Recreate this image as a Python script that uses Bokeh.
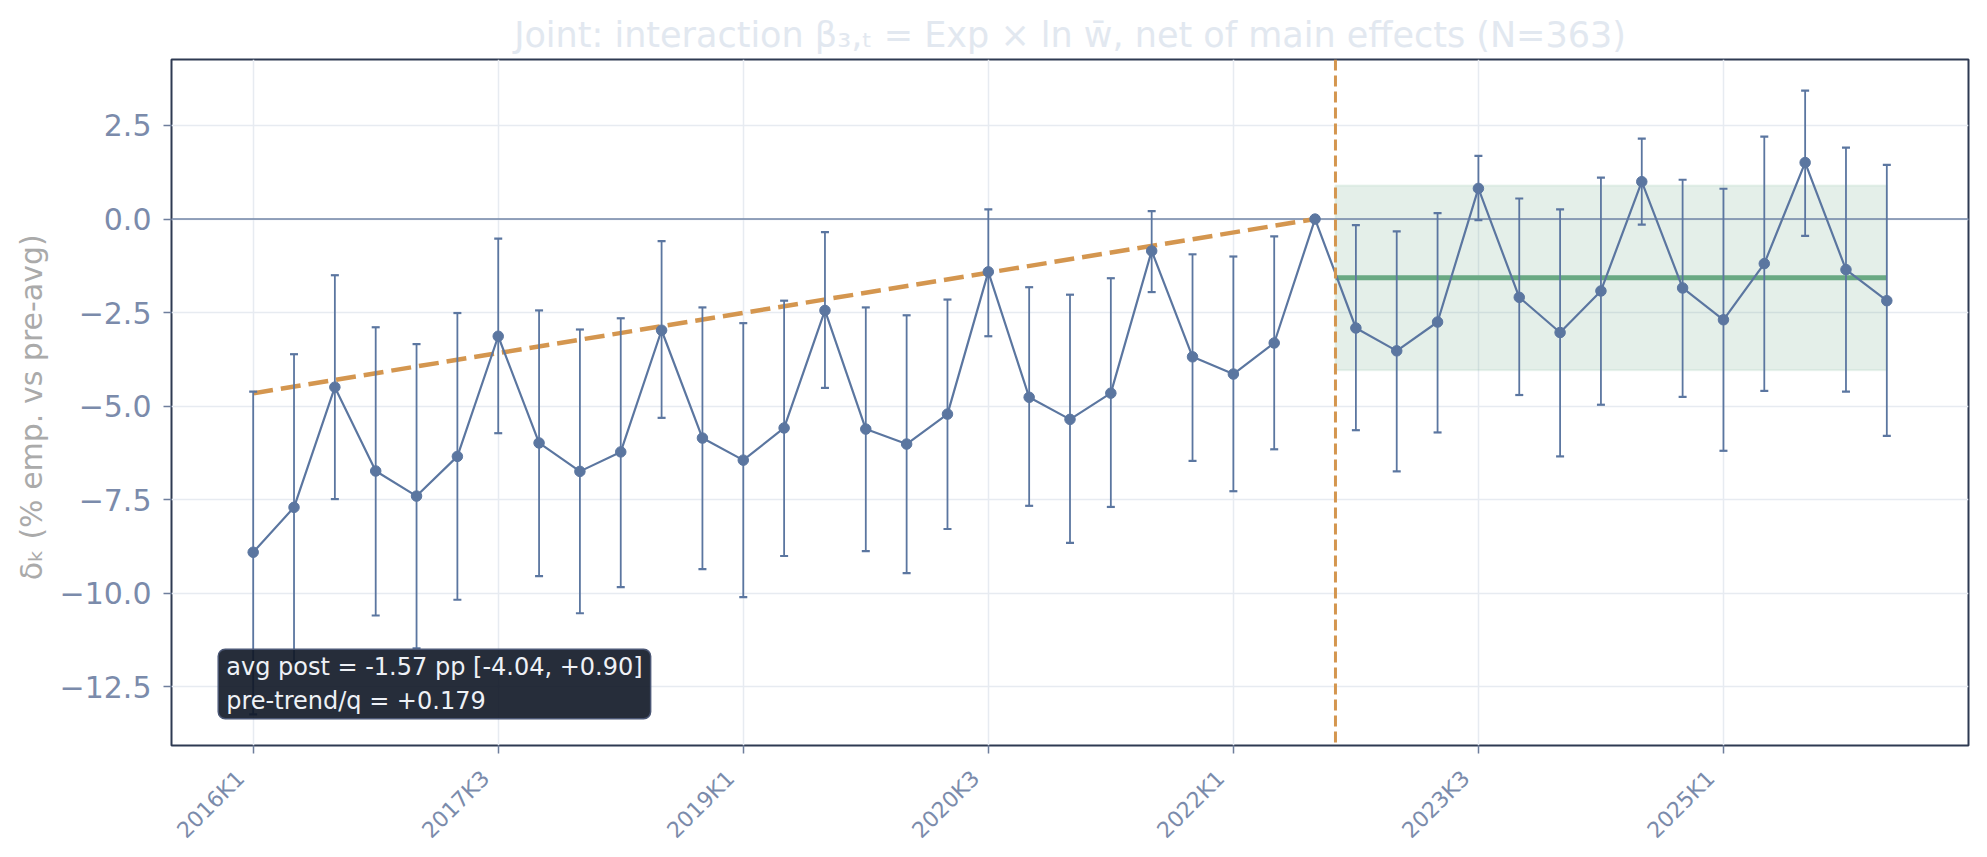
import math
from bokeh.plotting import figure
from bokeh.models import (ColumnDataSource, Range1d, FixedTicker, Whisker, TeeHead,
                          Span, BoxAnnotation, Label, LinearAxis, CustomJSTickFormatter)
from bokeh.embed import file_html
from bokeh.resources import INLINE

# ---------------- data ----------------
quarters = [
    "2016K1", "2016K2", "2016K3", "2016K4", "2017K1", "2017K2", "2017K3", "2017K4",
    "2018K1", "2018K2", "2018K3", "2018K4", "2019K1", "2019K2", "2019K3", "2019K4",
    "2020K1", "2020K2", "2020K3", "2020K4", "2021K1", "2021K2", "2021K3", "2021K4",
    "2022K1", "2022K2", "2022K3", "2022K4", "2023K1", "2023K2", "2023K3", "2023K4",
    "2024K1", "2024K2", "2024K3", "2024K4", "2025K1", "2025K2", "2025K3", "2025K4",
    "2026K1",
]
delta = [
    -8.90, -7.70, -4.49, -6.73, -7.40, -6.34, -3.13, -5.98,
    -6.74, -6.22, -2.97, -5.85, -6.44, -5.58, -2.44, -5.61,
    -6.01, -5.21, -1.41, -4.76, -5.35, -4.65, -0.85, -3.68,
    -4.14, -3.31, 0.00, -2.91, -3.52, -2.75, 0.82, -2.09,
    -3.03, -1.92, 1.00, -1.84, -2.69, -1.19, 1.51, -1.35,
    -2.18,
]
ci_low = [
    -13.23, -11.83, -7.48, -10.59, -11.47, -10.17, -5.72, -9.54,
    -10.53, -9.83, -5.31, -9.35, -10.10, -9.00, -4.51, -8.87,
    -9.46, -8.28, -3.13, -7.66, -8.65, -7.69, -1.95, -6.46,
    -7.27, -6.15, 0.00, -5.64, -6.74, -5.70, -0.03, -4.70,
    -6.34, -4.96, -0.15, -4.75, -6.19, -4.59, -0.45, -4.61,
    -5.79,
]
ci_high = [
    -4.61, -3.61, -1.50, -2.89, -3.34, -2.51, -0.52, -2.44,
    -2.95, -2.65, -0.59, -2.36, -2.78, -2.18, -0.35, -2.36,
    -2.57, -2.15, 0.26, -1.82, -2.02, -1.58, 0.21, -0.94,
    -1.00, -0.46, 0.00, -0.16, -0.33, 0.16, 1.69, 0.55,
    0.26, 1.11, 2.15, 1.05, 0.81, 2.20, 3.43, 1.91,
    1.45,
]
ref_index = 26            # 2022K3 = reference quarter
post_avg = -1.57
post_lo = -4.04
post_hi = 0.90
pretrend_q = 0.179
n_obs = 363

x_tick_idx = [0, 6, 12, 18, 24, 30, 36]
y_ticks = [2.5, 0.0, -2.5, -5.0, -7.5, -10.0, -12.5]
y_tick_labels = ["2.5", "0.0", "\u22122.5", "\u22125.0", "\u22127.5", "\u221210.0", "\u221212.5"]

# ---------------- styling ----------------
FONT = "DejaVu Sans"
C_SERIES = "#5b76a0"
C_ORANGE = "#d4964f"
C_GREEN = "#69a983"
C_TICK = "#7b8bab"
C_GRID = "#e7ebf1"
C_FRAME = "#2e3a52"

x = list(range(len(quarters)))
x_pad = 0.05 * (x[-1] - x[0])
ymin, ymax = min(ci_low), max(ci_high)
y_pad = 0.05 * (ymax - ymin)
x_range = Range1d(x[0] - x_pad, x[-1] + x_pad)
y_range = Range1d(ymin - y_pad, ymax + y_pad)

title = ("Joint: interaction \u03b2\u2083,\u209c = Exp \u00d7 ln w\u0304, "
         "net of main effects (N=%d)" % n_obs)

p = figure(frame_width=1797, frame_height=686,
           x_range=x_range, y_range=y_range,
           output_backend="svg", toolbar_location=None,
           min_border_left=171, min_border_right=4,
           min_border_top=59, min_border_bottom=78,
           title=title)
p.background_fill_color = "white"
p.border_fill_color = "white"

p.title.text_font = FONT
p.title.text_font_size = "35px"
p.title.text_font_style = "normal"
p.title.text_color = "#e2e8f0"
p.title.align = "center"
p.title.standoff = 9

p.outline_line_color = C_FRAME
p.outline_line_width = 2

for ax in (p.xaxis[0], p.yaxis[0]):
    ax.axis_line_color = None
    ax.minor_tick_line_color = None
    ax.major_tick_line_color = "#6e7e9c"
    ax.major_tick_line_width = 1.5
    ax.major_tick_out = 8
    ax.major_tick_in = 0
    ax.major_label_text_font = FONT
    ax.major_label_text_color = C_TICK

# x axis: tick marks only (labels not drawn)
xa = p.xaxis[0]
xa.ticker = FixedTicker(ticks=x_tick_idx)
xa.major_label_text_font_size = "0px"
xa.major_label_text_color = None
xa.major_label_standoff = 0

# second x axis below carries the rotated labels, shifted like matplotlib's ha='right'
label_shift = 0.31   # quarters
xlab = LinearAxis(ticker=FixedTicker(ticks=[i - label_shift for i in x_tick_idx]),
                  formatter=CustomJSTickFormatter(
                      args=dict(labels=quarters, shift=label_shift),
                      code="const k = Math.round(tick + shift); return labels[k] || '';"))
xlab.axis_line_color = None
xlab.major_tick_line_color = None
xlab.minor_tick_line_color = None
xlab.major_tick_out = 0
xlab.major_tick_in = 0
xlab.major_label_orientation = math.pi / 4
xlab.major_label_text_font = FONT
xlab.major_label_text_font_size = "22px"
xlab.major_label_text_color = C_TICK
xlab.major_label_standoff = 21
p.add_layout(xlab, "below")

p.yaxis.ticker = FixedTicker(ticks=y_ticks)
p.yaxis.major_label_overrides = dict(zip(y_ticks, y_tick_labels))
p.yaxis.major_label_text_font_size = "30px"
p.yaxis.major_label_standoff = 12
p.yaxis.axis_label = "\u03b4\u2096  (% emp. vs pre-avg)"
p.yaxis.axis_label_text_font = FONT
p.yaxis.axis_label_text_font_size = "30px"
p.yaxis.axis_label_text_font_style = "normal"
p.yaxis.axis_label_text_color = "#aaaaaa"
p.yaxis.axis_label_standoff = 8

p.xgrid.grid_line_color = C_GRID
p.ygrid.grid_line_color = C_GRID
p.xgrid.grid_line_width = 1.5
p.ygrid.grid_line_width = 1.5
p.xgrid.ticker = FixedTicker(ticks=x_tick_idx)

# post-period band and average
band = BoxAnnotation(left=ref_index + 0.5, right=x[-1], bottom=post_lo, top=post_hi,
                     fill_color=C_GREEN, fill_alpha=0.18,
                     line_color=C_GREEN, line_alpha=0.12, line_width=2,
                     level="underlay")
p.add_layout(band)

zero = Span(location=0, dimension="width", line_color="#7084a6", line_width=1.5,
            level="underlay")
p.add_layout(zero)

p.line([ref_index + 0.5, x[-1]], [post_avg, post_avg], line_color=C_GREEN,
       line_width=5)

# pre-trend line (through reference quarter)
tr_x = [x[0], ref_index]
tr_y = [pretrend_q * (xx - ref_index) for xx in tr_x]
p.line(tr_x, tr_y, line_color=C_ORANGE, line_width=4.5, line_dash="20 8")

# event line
vline = Span(location=ref_index + 0.5, dimension="height", line_color=C_ORANGE,
             line_width=3, line_dash="11 5")
p.add_layout(vline)

# error bars (skip reference quarter)
keep = [i for i in x if ci_high[i] != ci_low[i]]
wsrc = ColumnDataSource(dict(x=[x[i] for i in keep],
                             lo=[ci_low[i] for i in keep],
                             hi=[ci_high[i] for i in keep]))
wh = Whisker(base="x", lower="lo", upper="hi", source=wsrc,
             line_color=C_SERIES, line_width=1.8,
             upper_head=TeeHead(size=8, line_color=C_SERIES, line_width=2.2),
             lower_head=TeeHead(size=8, line_color=C_SERIES, line_width=2.2),
             level="glyph")
p.add_layout(wh)

src = ColumnDataSource(dict(x=x, y=delta))
p.line("x", "y", source=src, line_color=C_SERIES, line_width=2.2)
p.scatter("x", "y", source=src, size=10.5, fill_color=C_SERIES, line_color=C_SERIES)

# annotation box
txt = ("avg post = %.2f pp [%.2f, %+.2f]\npre-trend/q = %+.3f"
       % (post_avg, post_lo, post_hi, pretrend_q))
xs, xe = x_range.start, x_range.end
ys, ye = y_range.start, y_range.end
lab = Label(x=xs + 0.026 * (xe - xs), y=ys + 0.039 * (ye - ys), text=txt,
            text_font=FONT, text_font_size="24px", text_color="#eef1f6",
            text_align="left", text_baseline="bottom", text_line_height=1.2,
            background_fill_color="#0e1625", background_fill_alpha=0.9,
            border_line_color="#4b5775", border_line_width=1.5,
            border_radius=7, padding=dict(left=8, right=8, top=4, bottom=4))
p.add_layout(lab)

open("out.html", "w").write(file_html(p, INLINE))
